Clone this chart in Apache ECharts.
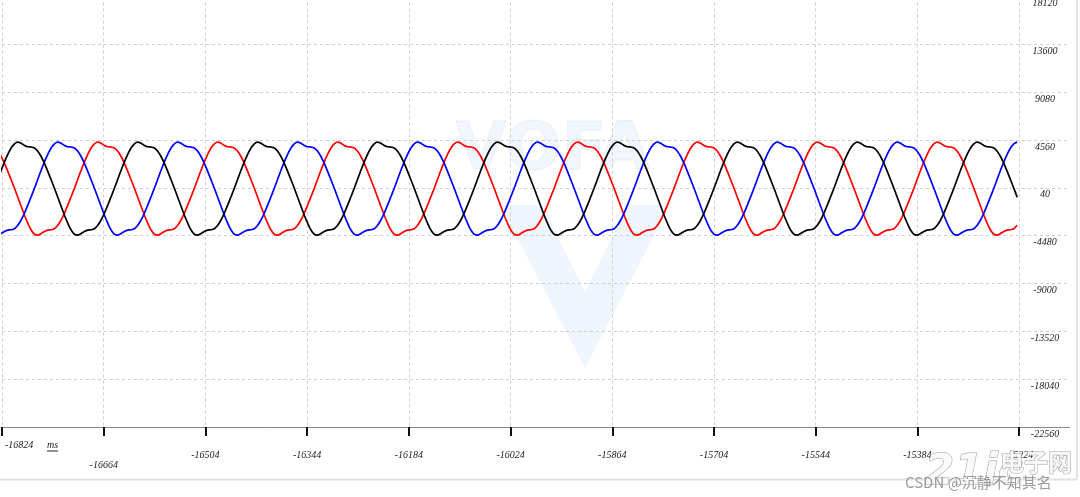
<!DOCTYPE html>
<html><head><meta charset="utf-8">
<script src="https://cdn.jsdelivr.net/npm/echarts@6/dist/echarts.min.js"></script>
<style>html,body{margin:0;padding:0;background:#fff;}#c{width:1080px;height:497px;}</style>
</head><body><div id="c"></div>
<script>
// ---- data ----
const timeTicks = [-16824,-16664,-16504,-16344,-16184,-16024,-15864,-15704,-15544,-15384,-15224];
const valueTicks = [18120,13600,9080,4560,40,-4480,-9000,-13520,-18040,-22560];
const sampleStart = -16835.8;   // ms, time of first sample
const sampleStep = 5.24;        // ms between samples
const blackValues = [
0,850,1700,2500,3200,3800,4200,4360,4250,4050,3920,3900,3800,3500,3000,2350,1600,800,0,-850,-1700,-2550,-3300,-3950,-4350,-4430,-4280,-4080,-3950,-3920,-3820,-3500,-3000,-2350,-1600,-800,
0,850,1700,2500,3200,3800,4200,4360,4250,4050,3920,3900,3800,3500,3000,2350,1600,800,0,-850,-1700,-2550,-3300,-3950,-4350,-4430,-4280,-4080,-3950,-3920,-3820,-3500,-3000,-2350,-1600,-800,
0,850,1700,2500,3200,3800,4200,4360,4250,4050,3920,3900,3800,3500,3000,2350,1600,800,0,-850,-1700,-2550,-3300,-3950,-4350,-4430,-4280,-4080,-3950,-3920,-3820,-3500,-3000,-2350,-1600,-800,
0,850,1700,2500,3200,3800,4200,4360,4250,4050,3920,3900,3800,3500,3000,2350,1600,800,0,-850,-1700,-2550,-3300,-3950,-4350,-4430,-4280,-4080,-3950,-3920,-3820,-3500,-3000,-2350,-1600,-800,
0,850,1700,2500,3200,3800,4200,4360,4250,4050,3920,3900,3800,3500,3000,2350,1600,800,0,-850,-1700,-2550,-3300,-3950,-4350,-4430,-4280,-4080,-3950,-3920,-3820,-3500,-3000,-2350,-1600,-800,
0,850,1700,2500,3200,3800,4200,4360,4250,4050,3920,3900,3800,3500,3000,2350,1600,800,0,-850,-1700,-2550,-3300,-3950,-4350,-4430,-4280,-4080,-3950,-3920,-3820,-3500,-3000,-2350,-1600,-800,
0,850,1700,2500,3200,3800,4200,4360,4250,4050,3920,3900,3800,3500,3000,2350,1600,800,0,-850,-1700,-2550,-3300,-3950,-4350,-4430,-4280,-4080,-3950,-3920,-3820,-3500,-3000,-2350,-1600,-800,
0,850,1700,2500,3200,3800,4200,4360,4250,4050,3920,3900,3800,3500,3000,2350,1600,800,0,-850,-1700,-2550,-3300,-3950,-4350,-4430,-4280,-4080,-3950,-3920,-3820,-3500,-3000,-2350,-1600,-800,
0,850,1700,2500,3200,3800,4200,4360,4250,4050,3920,3900,3800,3500,3000,2350,1600,800,0,-850
];
const blueValues = [
-4350,-4430,-4280,-4080,-3950,-3920,-3820,-3500,-3000,-2350,-1600,-800,0,850,1700,2500,3200,3800,4200,4360,4250,4050,3920,3900,3800,3500,3000,2350,1600,800,0,-850,-1700,-2550,-3300,-3950,
-4350,-4430,-4280,-4080,-3950,-3920,-3820,-3500,-3000,-2350,-1600,-800,0,850,1700,2500,3200,3800,4200,4360,4250,4050,3920,3900,3800,3500,3000,2350,1600,800,0,-850,-1700,-2550,-3300,-3950,
-4350,-4430,-4280,-4080,-3950,-3920,-3820,-3500,-3000,-2350,-1600,-800,0,850,1700,2500,3200,3800,4200,4360,4250,4050,3920,3900,3800,3500,3000,2350,1600,800,0,-850,-1700,-2550,-3300,-3950,
-4350,-4430,-4280,-4080,-3950,-3920,-3820,-3500,-3000,-2350,-1600,-800,0,850,1700,2500,3200,3800,4200,4360,4250,4050,3920,3900,3800,3500,3000,2350,1600,800,0,-850,-1700,-2550,-3300,-3950,
-4350,-4430,-4280,-4080,-3950,-3920,-3820,-3500,-3000,-2350,-1600,-800,0,850,1700,2500,3200,3800,4200,4360,4250,4050,3920,3900,3800,3500,3000,2350,1600,800,0,-850,-1700,-2550,-3300,-3950,
-4350,-4430,-4280,-4080,-3950,-3920,-3820,-3500,-3000,-2350,-1600,-800,0,850,1700,2500,3200,3800,4200,4360,4250,4050,3920,3900,3800,3500,3000,2350,1600,800,0,-850,-1700,-2550,-3300,-3950,
-4350,-4430,-4280,-4080,-3950,-3920,-3820,-3500,-3000,-2350,-1600,-800,0,850,1700,2500,3200,3800,4200,4360,4250,4050,3920,3900,3800,3500,3000,2350,1600,800,0,-850,-1700,-2550,-3300,-3950,
-4350,-4430,-4280,-4080,-3950,-3920,-3820,-3500,-3000,-2350,-1600,-800,0,850,1700,2500,3200,3800,4200,4360,4250,4050,3920,3900,3800,3500,3000,2350,1600,800,0,-850,-1700,-2550,-3300,-3950,
-4350,-4430,-4280,-4080,-3950,-3920,-3820,-3500,-3000,-2350,-1600,-800,0,850,1700,2500,3200,3800,4200,4360
];
const redValues = [
3800,3500,3000,2350,1600,800,0,-850,-1700,-2550,-3300,-3950,-4350,-4430,-4280,-4080,-3950,-3920,-3820,-3500,-3000,-2350,-1600,-800,0,850,1700,2500,3200,3800,4200,4360,4250,4050,3920,3900,
3800,3500,3000,2350,1600,800,0,-850,-1700,-2550,-3300,-3950,-4350,-4430,-4280,-4080,-3950,-3920,-3820,-3500,-3000,-2350,-1600,-800,0,850,1700,2500,3200,3800,4200,4360,4250,4050,3920,3900,
3800,3500,3000,2350,1600,800,0,-850,-1700,-2550,-3300,-3950,-4350,-4430,-4280,-4080,-3950,-3920,-3820,-3500,-3000,-2350,-1600,-800,0,850,1700,2500,3200,3800,4200,4360,4250,4050,3920,3900,
3800,3500,3000,2350,1600,800,0,-850,-1700,-2550,-3300,-3950,-4350,-4430,-4280,-4080,-3950,-3920,-3820,-3500,-3000,-2350,-1600,-800,0,850,1700,2500,3200,3800,4200,4360,4250,4050,3920,3900,
3800,3500,3000,2350,1600,800,0,-850,-1700,-2550,-3300,-3950,-4350,-4430,-4280,-4080,-3950,-3920,-3820,-3500,-3000,-2350,-1600,-800,0,850,1700,2500,3200,3800,4200,4360,4250,4050,3920,3900,
3800,3500,3000,2350,1600,800,0,-850,-1700,-2550,-3300,-3950,-4350,-4430,-4280,-4080,-3950,-3920,-3820,-3500,-3000,-2350,-1600,-800,0,850,1700,2500,3200,3800,4200,4360,4250,4050,3920,3900,
3800,3500,3000,2350,1600,800,0,-850,-1700,-2550,-3300,-3950,-4350,-4430,-4280,-4080,-3950,-3920,-3820,-3500,-3000,-2350,-1600,-800,0,850,1700,2500,3200,3800,4200,4360,4250,4050,3920,3900,
3800,3500,3000,2350,1600,800,0,-850,-1700,-2550,-3300,-3950,-4350,-4430,-4280,-4080,-3950,-3920,-3820,-3500,-3000,-2350,-1600,-800,0,850,1700,2500,3200,3800,4200,4360,4250,4050,3920,3900,
3800,3500,3000,2350,1600,800,0,-850,-1700,-2550,-3300,-3950,-4350,-4430,-4280,-4080,-3950,-3920,-3820,-3500
];

// ---- chart ----
const xMin = -16824, xMax = -15144, yMin = -22560, yMax = 18120;
const toPairs = vals => vals.map((v, i) => [sampleStart + i * sampleStep, v]);
const labelFont = { fontFamily: 'Liberation Serif', fontStyle: 'italic', fontSize: 10, color: '#222', lineHeight: 12 };
const fmt = v => String(Math.round(v));

const chart = echarts.init(document.getElementById('c'), null, { renderer: 'canvas' });
chart.setOption({
  animation: false,
  backgroundColor: '#fff',
  grid: { left: 2, right: 10, top: -3.5, bottom: 70, outerBoundsMode: 'none' },
  xAxis: [
    { type: 'value', min: xMin, max: xMax, position: 'bottom',
      axisLine: { show: true, onZero: false, lineStyle: { color: '#8a8a8a', width: 1 } },
      axisTick: { show: true, customValues: timeTicks, length: 9, lineStyle: { color: '#111', width: 2 } },
      splitLine: { show: true, lineStyle: { color: '#cfcfcf', width: 1, type: [3, 3] } },
      axisLabel: Object.assign({ customValues: timeTicks.slice(2), margin: 22, formatter: fmt }, labelFont) },
    { type: 'value', min: xMin, max: xMax, position: 'bottom',
      axisLine: { show: false }, axisTick: { show: false }, splitLine: { show: false },
      axisLabel: Object.assign({ customValues: [timeTicks[0]], margin: 12, align: 'left', padding: [0, 0, 0, 3], formatter: fmt }, labelFont) },
    { type: 'value', min: xMin, max: xMax, position: 'bottom',
      axisLine: { show: false }, axisTick: { show: false }, splitLine: { show: false },
      axisLabel: Object.assign({ customValues: [timeTicks[1]], margin: 32, formatter: fmt }, labelFont) }
  ],
  yAxis: {
    type: 'value', min: yMin, max: yMax, position: 'right',
    axisLine: { show: false },
    axisTick: { show: false, customValues: valueTicks },
    splitLine: { show: true, lineStyle: { color: '#cfcfcf', width: 1, type: [3, 3] } },
    axisLabel: Object.assign({ customValues: valueTicks, inside: true, margin: 25, align: 'center',
      verticalAlign: 'top', padding: [1, 0, 0, 0], formatter: fmt }, labelFont)
  },
  graphic: [
    { type: 'text', z: 0, left: 455, top: 118, style: { text: 'VOFA', font: 'bold 66px "DejaVu Sans"', fill: 'rgba(218,230,247,0.38)', stroke: 'rgba(205,220,243,0.35)', lineWidth: 1 } },
    { type: 'polygon', z: 0, shape: { points: [[500,205],[542,205],[585,292],[628,205],[670,205],[585,368]] }, style: { fill: 'rgba(220,232,248,0.45)' } },
    { type: 'text', z: 0, x: 47, y: 445, style: { text: 'ms', font: 'italic 10px "Liberation Serif"', fill: '#222', verticalAlign: 'middle' } },
    { type: 'line', z: 0, shape: { x1: 47, y1: 451, x2: 58, y2: 451 }, style: { stroke: '#222', lineWidth: 1 } },
    { type: 'line', z: 0, shape: { x1: 0, y1: 479.5, x2: 1077, y2: 479.5 }, style: { stroke: '#e2e2e2', lineWidth: 2 } },
    { type: 'line', z: 0, shape: { x1: 1077, y1: 0, x2: 1077, y2: 479.5 }, style: { stroke: '#e2e2e2', lineWidth: 2 } },
    { type: 'text', z: 10, x: 925, y: 452, style: { text: '21ic', font: 'bold italic 42px "DejaVu Sans"', fill: 'rgba(248,248,248,0.92)', stroke: 'rgba(120,120,120,0.7)', lineWidth: 1 } },
    { type: 'text', z: 10, x: 1000, y: 450, style: { text: '电子网', font: 'bold 24px "Noto Sans CJK SC"', fill: 'rgba(248,248,248,0.92)', stroke: 'rgba(120,120,120,0.7)', lineWidth: 1 } },
    { type: 'text', z: 10, x: 905, y: 475, style: { text: 'CSDN @沉静不知其名', font: '15px "Noto Sans CJK SC"', fill: 'rgba(140,140,140,0.85)' } }
  ],
  series: [
    { name: 'red', type: 'line', xAxisIndex: 0, data: toPairs(redValues), showSymbol: false, smooth: 0.3,
      lineStyle: { color: '#ff0000', width: 1.7 }, itemStyle: { color: '#ff0000' }, z: 3 },
    { name: 'blue', type: 'line', xAxisIndex: 0, data: toPairs(blueValues), showSymbol: false, smooth: 0.3,
      lineStyle: { color: '#0000ff', width: 1.7 }, itemStyle: { color: '#0000ff' }, z: 3 },
    { name: 'black', type: 'line', xAxisIndex: 0, data: toPairs(blackValues), showSymbol: false, smooth: 0.3,
      lineStyle: { color: '#000000', width: 1.7 }, itemStyle: { color: '#000000' }, z: 3 }
  ]
});
</script></body></html>
